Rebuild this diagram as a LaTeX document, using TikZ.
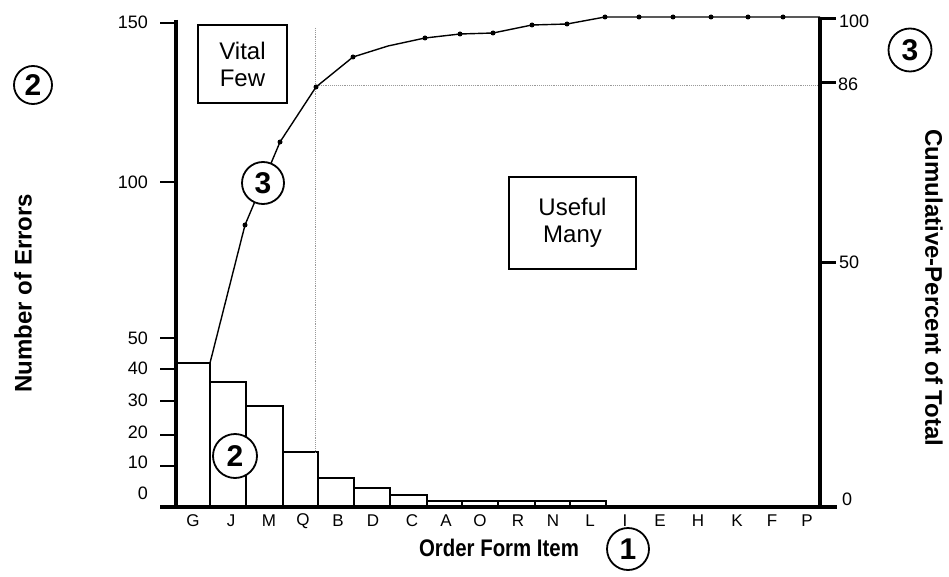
\documentclass[tikz,border=0pt]{standalone}
\usepackage{fontspec}
\setmainfont{Liberation Sans}
\newfontfamily\condfont[FakeStretch=0.85]{Liberation Sans}
\begin{document}
\begin{tikzpicture}[x=1pt,y=-1pt,
  thintick/.style={line width=1.3pt},
  thicktick/.style={line width=3pt},
  axisline/.style={line width=4pt},
  barbox/.style={draw, line width=1.3pt, fill=white},
  curveline/.style={line width=1.4pt, line join=round},
  guide/.style={line width=0.9pt, gray!80, densely dotted},
  datadot/.style={circle, fill=black, inner sep=0pt, minimum size=5pt},
  numcirc/.style={circle, draw, line width=1.8pt, fill=white, inner sep=0pt,
     minimum size=#1, font=\fontsize{30}{30}\selectfont\bfseries},
  numcirc/.default=42pt,
  textbox/.style={draw, line width=1.2pt, align=center, inner sep=0pt,
     font=\fontsize{24}{27}\selectfont},
  ticklab/.style={font=\fontsize{18}{18}\selectfont, inner sep=0pt},
  catlab/.style={font=\fontsize{17}{17}\selectfont, inner sep=0pt},
  axislab/.style={font=\fontsize{24}{24}\selectfont\bfseries, inner sep=0pt}
]
\useasboundingbox (0,0) rectangle (949,577);

% bars
\foreach \l/\r/\t in {176/210/363, 210/246/382, 246/283/406, 283/318/452,
  318/354/478, 354/390/488, 390/427/495, 427/462/501, 462/498/501,
  498/535/501, 535/570/501, 570/606/501}
  \draw[barbox] (\l,507) rectangle (\r,\t);

% guide lines
\coordinate (vtop) at (315,28);
\coordinate (vbot) at (315,452);
\coordinate (hleft) at (315,85);
\coordinate (hright) at (820,85);
\draw[guide] (vtop) -- (vbot);
\draw[guide] (hleft) -- (hright);

% cumulative curve
\coordinate (p0) at (210,363);
\coordinate (p1) at (245,225);
\coordinate (p2) at (280,142);
\coordinate (p3) at (316,87);
\coordinate (p4) at (353,57);
\coordinate (p5) at (388,46);
\coordinate (p6) at (425,38);
\coordinate (p7) at (460,34);
\coordinate (p8) at (493,33);
\coordinate (p9) at (532,25);
\coordinate (p10) at (567,24);
\coordinate (p11) at (605,17);
\coordinate (p12) at (639,17);
\coordinate (p13) at (673,17);
\coordinate (p14) at (711,17);
\coordinate (p15) at (748,17);
\coordinate (p16) at (783,17);
\coordinate (p17) at (820,17);
\draw[curveline] (p0) -- (p1) -- (p2) -- (p3) -- (p4) -- (p5) -- (p6) -- (p7)
  -- (p8) -- (p9) -- (p10) -- (p11) -- (p12) -- (p13) -- (p14) -- (p15)
  -- (p16) -- (p17);
\foreach \i in {1,2,3,4,6,7,8,9,10,11,12,13,14,15,16}
  \node[datadot] (d\i) at (p\i) {};

% axes
\draw[axisline] (176,20) -- (176,509);
\draw[axisline] (160,507) -- (837,507);
\draw[line width=3.5pt] (820,17) -- (820,509);

% left ticks
\foreach \y in {23,182,338,369,401,435,466}
  \draw[thintick] (160,\y) -- (176,\y);
% right ticks
\foreach \y in {19,83,262}
  \draw[thicktick] (820,\y) -- (836,\y);

% left tick labels
\node[ticklab, anchor=east] (l150) at (148,22) {150};
\node[ticklab, anchor=east] (l100) at (148,182) {100};
\node[ticklab, anchor=east] (l50) at (148,338) {50};
\node[ticklab, anchor=east] (l40) at (148,368) {40};
\node[ticklab, anchor=east] (l30) at (148,400) {30};
\node[ticklab, anchor=east] (l20) at (148,432) {20};
\node[ticklab, anchor=east] (l10) at (148,462) {10};
\node[ticklab, anchor=east] (l0) at (148,493) {0};

% right tick labels
\node[ticklab, anchor=west] (r100) at (839,21) {100};
\node[ticklab, anchor=west] (r86) at (838,84) {86};
\node[ticklab, anchor=west] (r50) at (839,262) {50};
\node[ticklab, anchor=west] (r0) at (842,499) {0};

% category labels
\foreach \x/\c in {193/G, 231/J, 269/M, 303/Q, 338/B, 373/D, 412/C, 446/A,
  480/O, 518/R, 553/N, 590/L, 625/I, 660/E, 698/H, 737/K, 772/F, 807/P}
  \node[catlab] (c\c) at (\x,521) {\c};

% axis titles
\node[axislab, rotate=90] (ytitle) at (23,293) {Number of Errors};
\node[axislab, rotate=-90] (y2title) at (934,288) {Cumulative-Percent of Total};
\node[font=\fontsize{24}{24}\selectfont\condfont\bfseries, inner sep=0pt]
  (xtitle) at (499,548) {Order Form Item};

% boxes
\node[textbox, minimum width=89pt, minimum height=78pt] (vital) at (242.5,64)
  {Vital\\Few};
\node[textbox, minimum width=127pt, minimum height=92pt] (useful) at (572.5,223)
  {Useful\\Many};

% circled numbers
\node[numcirc=38pt] (n2left) at (33,85) {2};
\node[numcirc=43pt] (n3right) at (910,50) {3};
\node[numcirc=42pt] (n1) at (628,549) {1};
\node[numcirc=44pt] (n2bar) at (235,456) {2};
\node[numcirc=42pt] (n3curve) at (263,183) {3};
\end{tikzpicture}
\end{document}
